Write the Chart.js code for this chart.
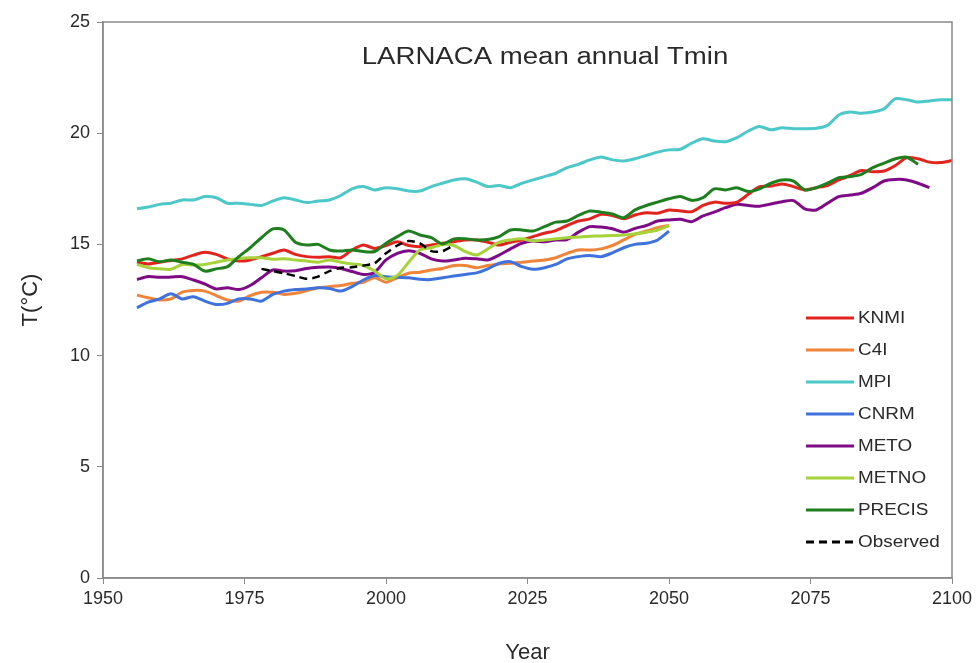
<!DOCTYPE html>
<html>
<head>
<meta charset="utf-8">
<title>LARNACA mean annual Tmin</title>
<script src="https://cdn.jsdelivr.net/npm/chart.js@4.4.1/dist/chart.umd.min.js"></script>
<style>
    body { margin: 0; background: #fff; }
    #chart { display: block; }
</style>
</head>
<body>
<canvas id="chart" width="977" height="663"></canvas>
<script>
// ===== Data (2-year steps) =====

const years = [];
for (let y = 1956; y <= 2100; y += 2) years.push(y);

const knmi = [14.2, 14.12, 14.2, 14.28, 14.35, 14.52, 14.65, 14.55, 14.35, 14.25, 14.3, 14.45, 14.6, 14.75, 14.55, 14.45, 14.42, 14.45, 14.4, 14.75,
    14.97, 14.82, 14.95, 15.12, 14.95, 14.9, 14.97, 15.05, 15.12, 15.2, 15.2, 15.1, 14.97, 15.1, 15.2, 15.35, 15.5, 15.62, 15.85, 16.05,
    16.15, 16.35, 16.3, 16.15, 16.32, 16.42, 16.4, 16.55, 16.5, 16.47, 16.75, 16.9, 16.85, 16.9, 17.25, 17.6, 17.62, 17.72, 17.6, 17.45,
    17.55, 17.65, 17.9, 18.1, 18.32, 18.27, 18.3, 18.55, 18.9, 18.85, 18.7, 18.68, 18.77];

const c4i = [12.72, 12.6, 12.5, 12.55, 12.85, 12.93, 12.9, 12.7, 12.5, 12.45, 12.7, 12.85, 12.85, 12.75, 12.8, 12.92, 13.05, 13.1, 13.15, 13.25,
    13.3, 13.5, 13.3, 13.5, 13.7, 13.75, 13.85, 13.92, 14.05, 14.05, 13.95, 14.05, 14.12, 14.15, 14.2, 14.25, 14.3, 14.4, 14.6, 14.75,
    14.75, 14.8, 14.95, 15.2, 15.45, 15.6, 15.75, 15.85];

const mpi = [16.6, 16.68, 16.8, 16.85, 17.0, 17.0, 17.15, 17.1, 16.85, 16.85, 16.8, 16.75, 16.95, 17.1, 17.0, 16.88, 16.95, 17.0, 17.2, 17.5,
    17.6, 17.45, 17.55, 17.5, 17.4, 17.4, 17.6, 17.75, 17.9, 17.95, 17.8, 17.6, 17.65, 17.55, 17.75, 17.9, 18.05, 18.2, 18.45, 18.6,
    18.8, 18.93, 18.8, 18.75, 18.85, 19.0, 19.15, 19.25, 19.28, 19.55, 19.75, 19.65, 19.62, 19.8, 20.1, 20.3, 20.15, 20.25, 20.2, 20.2,
    20.22, 20.35, 20.82, 20.95, 20.9, 20.95, 21.1, 21.55, 21.5, 21.4, 21.45, 21.5, 21.5];

const cnrm = [12.15, 12.4, 12.55, 12.78, 12.55, 12.65, 12.45, 12.3, 12.35, 12.55, 12.55, 12.45, 12.75, 12.9, 12.97, 13.0, 13.05, 13.02, 12.9, 13.1,
    13.4, 13.6, 13.55, 13.52, 13.5, 13.43, 13.42, 13.5, 13.58, 13.65, 13.72, 13.9, 14.15, 14.22, 14.0, 13.88, 13.95, 14.1, 14.35, 14.45,
    14.5, 14.45, 14.62, 14.85, 15.0, 15.05, 15.2, 15.6];

const meto = [13.42, 13.56, 13.52, 13.53, 13.55, 13.4, 13.22, 13.0, 13.05, 12.97, 13.15, 13.5, 13.85, 13.8, 13.82, 13.92, 13.97, 13.98, 13.92, 13.78,
    13.65, 13.75, 14.3, 14.6, 14.72, 14.6, 14.35, 14.25, 14.3, 14.38, 14.35, 14.3, 14.52, 14.8, 15.05, 15.15, 15.12, 15.2, 15.22, 15.55,
    15.8, 15.78, 15.7, 15.55, 15.72, 15.85, 16.05, 16.1, 16.13, 16.02, 16.28, 16.45, 16.65, 16.8, 16.75, 16.72, 16.82, 16.92, 16.97, 16.6,
    16.55, 16.85, 17.15, 17.22, 17.3, 17.55, 17.85, 17.92, 17.9, 17.75, 17.55];

const metno = [14.1, 13.95, 13.9, 13.88, 14.1, 14.07, 14.1, 14.2, 14.3, 14.37, 14.4, 14.4, 14.33, 14.35, 14.3, 14.25, 14.2, 14.3, 14.2, 14.12,
    14.05, 13.8, 13.45, 13.6, 14.2, 14.75, 14.85, 15.0, 14.95, 14.68, 14.52, 14.8, 15.1, 15.2, 15.25, 15.15, 15.2, 15.25, 15.3, 15.33,
    15.37, 15.38, 15.4, 15.42, 15.48, 15.55, 15.65, 15.85];

const precis = [14.25, 14.35, 14.22, 14.3, 14.2, 14.1, 13.8, 13.9, 14.0, 14.45, 14.85, 15.3, 15.7, 15.65, 15.1, 14.97, 15.0, 14.75, 14.7, 14.75,
    14.68, 14.68, 15.05, 15.35, 15.6, 15.42, 15.3, 15.02, 15.25, 15.25, 15.2, 15.22, 15.35, 15.65, 15.65, 15.6, 15.8, 16.0, 16.05, 16.3,
    16.5, 16.45, 16.37, 16.2, 16.55, 16.75, 16.9, 17.05, 17.15, 16.98, 17.1, 17.5, 17.45, 17.55, 17.38, 17.5, 17.75, 17.9, 17.85, 17.45,
    17.55, 17.75, 18.0, 18.05, 18.15, 18.45, 18.65, 18.85, 18.92, 18.6];

const obsYears = [1978, 1980, 1982, 1984, 1986, 1988, 1990, 1992, 1994, 1996, 1998, 2000, 2002, 2004, 2006, 2008, 2010, 2012];
const observed = [13.9, 13.8, 13.7, 13.58, 13.45, 13.55, 13.8, 13.95, 13.97, 14.05, 14.15, 14.6, 14.95, 15.15, 15.05, 14.7, 14.7, 14.97];

const xTicks = [1950, 1975, 2000, 2025, 2050, 2075, 2100];
const yTicks = [0, 5, 10, 15, 20, 25];

// ===== Helpers =====

function toPoints(xs, vals) {
    return vals.map((v, i) => ({ x: xs[i], y: v }));
}

function series(label, vals, color, order, xs) {
    return {
        label: label,
        data: toPoints(xs || years, vals),
        borderColor: color,
        backgroundColor: color,
        borderWidth: 3,
        pointRadius: 0,
        tension: 0.25,
        fill: false,
        order: order
    };
}

const AXIS_COLOR = '#8a8a8a';
const TEXT_COLOR = '#2a2a2a';
const FONT = 'Liberation Sans, Arial, sans-serif';

// text drawn a little wider than the font, as in the reference
function wideText(ctx, text, x, y, stretch, align) {
    const w = ctx.measureText(text).width * stretch;
    const left = align === 'center' ? x - w / 2 : x;
    ctx.save();
    ctx.translate(left, y);
    ctx.scale(stretch, 1);
    ctx.textAlign = 'left';
    ctx.fillText(text, 0, 0);
    ctx.restore();
}

// frame round the plot, title and the legend inside the plot
const framePlugin = {
    id: 'frame',
    afterDraw(chart) {
        const ctx = chart.ctx;
        const a = chart.chartArea;
        ctx.save();
        ctx.strokeStyle = AXIS_COLOR;
        ctx.lineWidth = 1.5;
        ctx.strokeRect(a.left, a.top, a.right - a.left, a.bottom - a.top);

        // title
        ctx.fillStyle = TEXT_COLOR;
        ctx.font = '23px ' + FONT;
        ctx.textBaseline = 'middle';
        wideText(ctx, 'LARNACA mean annual Tmin', 545, 58, 1.2, 'center');

        // legend
        ctx.font = '16px ' + FONT;
        chart.data.datasets.forEach((ds, i) => {
            const y = 318 + i * 32;
            ctx.strokeStyle = ds.borderColor;
            ctx.lineWidth = 3;
            ctx.setLineDash(ds.borderDash || []);
            ctx.beginPath();
            ctx.moveTo(806, y);
            ctx.lineTo(854, y);
            ctx.stroke();
            ctx.setLineDash([]);
            ctx.fillStyle = TEXT_COLOR;
            wideText(ctx, ds.label, 858, y + 1, 1.18, 'left');
        });
        ctx.restore();
    }
};

const obsSet = series('Observed', observed, '#000000', 0, obsYears);
obsSet.borderDash = [8, 5];
obsSet.borderWidth = 2.5;

const chart = new Chart(document.getElementById('chart'), {
    type: 'line',
    data: {
        datasets: [
            series('KNMI', knmi, '#e3241e', 3),
            series('C4I', c4i, '#f0843a', 6),
            series('MPI', mpi, '#4cc8c8', 7),
            series('CNRM', cnrm, '#3f72dc', 5),
            series('METO', meto, '#7e0a86', 4),
            series('METNO', metno, '#a6d23a', 2),
            series('PRECIS', precis, '#1f7f1f', 1),
            obsSet
        ]
    },
    options: {
        responsive: false,
        animation: false,
        layout: { padding: { top: 22, right: 25, left: 0, bottom: 0 } },
        plugins: {
            legend: { display: false },
            tooltip: { enabled: false }
        },
        scales: {
            x: {
                type: 'linear',
                min: 1950,
                max: 2100,
                afterBuildTicks: s => { s.ticks = xTicks.map(v => ({ value: v })); },
                afterFit: s => { s.height = 85; },
                grid: { drawOnChartArea: false, drawTicks: true, tickLength: 6, color: AXIS_COLOR },
                border: { color: AXIS_COLOR, width: 1.5 },
                ticks: { color: TEXT_COLOR, font: { size: 18, family: FONT }, padding: 4, maxRotation: 0, callback: v => String(v) },
                title: { display: true, text: 'Year', color: TEXT_COLOR, font: { size: 22, family: FONT }, padding: { top: 0, bottom: -3 } }
            },
            y: {
                min: 0,
                max: 25,
                afterBuildTicks: s => { s.ticks = yTicks.map(v => ({ value: v })); },
                afterFit: s => { s.width = 103; },
                grid: { drawOnChartArea: false, drawTicks: true, tickLength: 6, color: AXIS_COLOR },
                border: { color: AXIS_COLOR, width: 1.5 },
                ticks: { color: TEXT_COLOR, font: { size: 18, family: FONT }, padding: 7 },
                title: { display: true, text: 'T(\u00B0C)', color: TEXT_COLOR, font: { size: 22, family: FONT }, padding: { top: 18, bottom: 0 } }
            }
        }
    },
    plugins: [framePlugin]
});
</script>
</body>
</html>
